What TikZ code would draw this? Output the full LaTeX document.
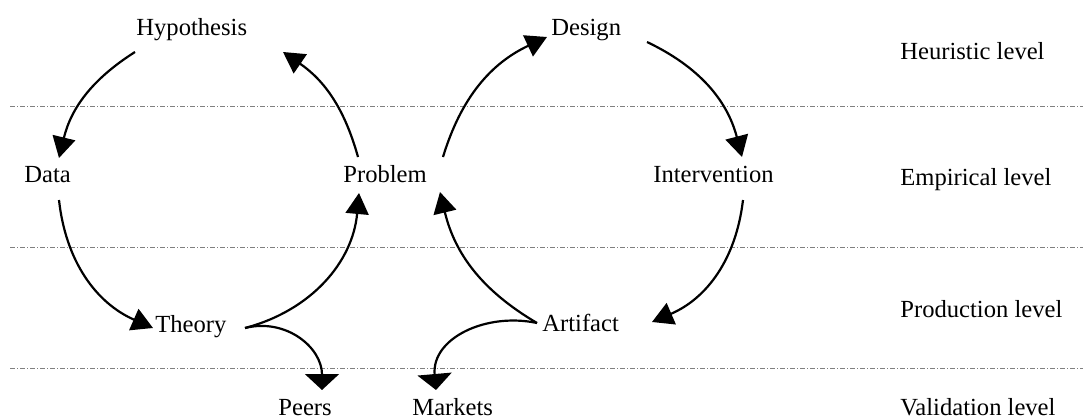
\documentclass[tikz,border=0pt]{standalone}
\usepackage{fontspec}
\setmainfont{Liberation Serif}
\usetikzlibrary{arrows.meta}

\begin{document}
\begin{tikzpicture}[
        x=0.5pt, y=0.5pt,
        every node/.style={inner sep=0pt, anchor=base west, font=\fontsize{12.3}{14}\selectfont},
        arrow/.style={-{Triangle[length=10.5pt, width=11.5pt]}, line width=1.1pt},
        outarrow/.style={-{Triangle[length=8pt, width=17pt]}, line width=1.1pt},
        levelline/.style={gray, line width=0.5pt, dash pattern=on 2.5pt off 1pt on 0.5pt off 1pt}
    ]
    \useasboundingbox (0,0) rectangle (1083,419);

    % Level separators
    \foreach \y in {313, 172, 51}
        \draw[levelline] (10,\y) -- (1083,\y);

    % Levels
    \node (heuristic) at (900,359) {Heuristic level};
    \node (empirical) at (900,234) {Empirical level};
    \node (production) at (900,102) {Production level};
    \node (validation) at (900,4) {Validation level};

    % Research cycle
    \node (hyp) at (136,384) {Hypothesis};
    \node (data) at (24,237) {Data};
    \node (theory) at (155,87) {Theory};
    \node (problem) at (343,237) {Problem};

    % Design cycle
    \node (design) at (551,384) {Design};
    \node (interv) at (653,237) {Intervention};
    \node (artifact) at (542,88) {Artifact};

    % Validation
    \node (peers) at (278,4) {Peers};
    \node (markets) at (412,4) {Markets};

    % Arrows
    \draw[arrow] ([shift={(-1,-17)}]hyp.base west) to[bend right=22] ([shift={(35,24)}]data.base west);
    \draw[arrow] ([shift={(35,-18)}]data.base west) to[bend right=30] ([shift={(-2,4)}]theory.base west);
    \draw[arrow] ([shift={(90,4)}]theory.base west) to[bend right=35] ([shift={(16,-11)}]problem.base west);
    \draw[arrow] ([shift={(15,25)}]problem.base west) to[bend right=20] ([shift={(147,-17)}]hyp.base west);
    \draw[arrow] ([shift={(100,25)}]problem.base west) to[bend left=24] ([shift={(-4,-2)}]design.base west);
    \draw[arrow] ([shift={(96,-7)}]design.base west) to[bend left=25] ([shift={(89,25)}]interv.base west);
    \draw[arrow] ([shift={(90,-18)}]interv.base west) to[bend left=30] ([shift={(110,9)}]artifact.base west);
    \draw[arrow] ([shift={(-5,8)}]artifact.base west) to[bend left=23] ([shift={(97,-10)}]problem.base west);
    \draw[outarrow] ([shift={(90,4)}]theory.base west) to[out=14, in=90, looseness=1.1] ([shift={(44,25)}]peers.base west);
    \draw[outarrow] ([shift={(-5,8)}]artifact.base west) to[out=168, in=95, looseness=1.1] ([shift={(24,25)}]markets.base west);

\end{tikzpicture}
\end{document}
